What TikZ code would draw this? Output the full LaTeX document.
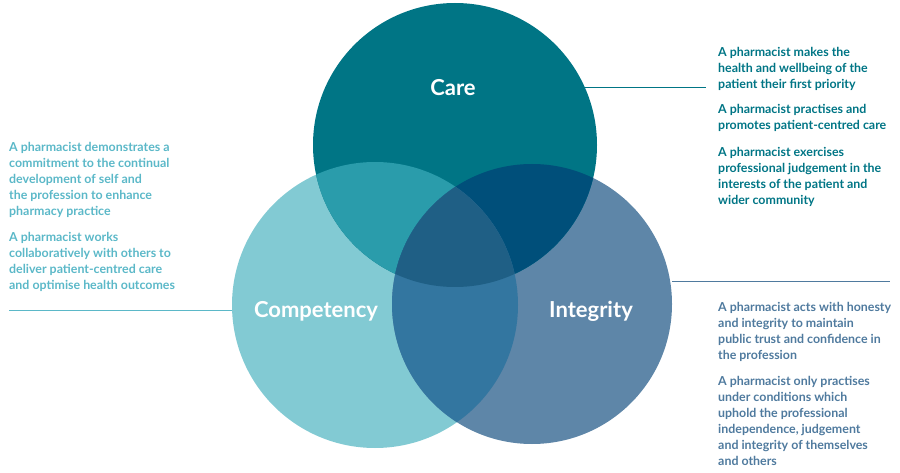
\documentclass[tikz,border=0pt]{standalone}
\usepackage{fontspec}
\setmainfont{Lato}
\definecolor{care}{HTML}{007585}
\definecolor{comp}{HTML}{82CAD3}
\definecolor{integ}{HTML}{5E86A8}
\definecolor{cc}{HTML}{2A9CAB}
\definecolor{ci}{HTML}{004F7A}
\definecolor{mi}{HTML}{3376A0}
\definecolor{all}{HTML}{1F5F85}
\definecolor{lefttxt}{HTML}{5BB8C8}
\definecolor{inttxt}{HTML}{4F7A9E}
\begin{document}
\begin{tikzpicture}[x=1pt,y=-1pt,
  txt/.style={anchor=north west,align=left,font=\bfseries\fontsize{12.4}{16}\selectfont,inner sep=0pt},
  lbl/.style={text=white,font=\bfseries\fontsize{22}{24}\selectfont},
  lead/.style={line width=0.8pt}]
\useasboundingbox (0,0) rectangle (900,473);
\def\CA{(455,145) circle (142)}
\def\CO{(375,305) circle (143)}
\def\IN{(532,304) circle (140)}
\fill[comp] \CO;
\fill[integ] \IN;
\fill[care] \CA;
\begin{scope}\clip \CA; \fill[cc] \CO; \end{scope}
\begin{scope}\clip \CA; \fill[ci] \IN; \end{scope}
\begin{scope}\clip \CO; \fill[mi] \IN; \end{scope}
\begin{scope}\clip \CA; \clip \CO; \fill[all] \IN; \end{scope}
\node[lbl] (care) at (453,88) {Care};
\node[lbl] (compl) at (316,311) {Competency};
\node[lbl] (intl) at (591,311) {Integrity};
\coordinate (c1) at (580,87); \coordinate (c2) at (706,87);
\draw[lead,care] (c1) -- (c2);
\coordinate (i1) at (672,281); \coordinate (i2) at (890,281);
\draw[lead,inttxt] (i1) -- (i2);
\coordinate (m1) at (9,310); \coordinate (m2) at (232,310);
\draw[lead,lefttxt] (m1) -- (m2);
\node[txt,text=care] (t1) at (718,47) {A pharmacist makes the\\health and wellbeing of the\\patient their first priority};
\node[txt,text=care] (t2) at (718,104) {A pharmacist practises and\\promotes patient-centred care};
\node[txt,text=care] (t3) at (718,147) {A pharmacist exercises\\professional judgement in the\\interests of the patient and\\wider community};
\node[txt,text=lefttxt] (t4) at (9,142) {A pharmacist demonstrates a\\commitment to the continual\\development of self and\\the profession to enhance\\pharmacy practice};
\node[txt,text=lefttxt] (t5) at (9,232) {A pharmacist works\\collaboratively with others to\\deliver patient-centred care\\and optimise health outcomes};
\node[txt,text=inttxt] (t6) at (718,302) {A pharmacist acts with honesty\\and integrity to maintain\\public trust and confidence in\\the profession};
\node[txt,text=inttxt] (t7) at (718,376) {A pharmacist only practises\\under conditions which\\uphold the professional\\independence, judgement\\and integrity of themselves\\and others};
\end{tikzpicture}
\end{document}
